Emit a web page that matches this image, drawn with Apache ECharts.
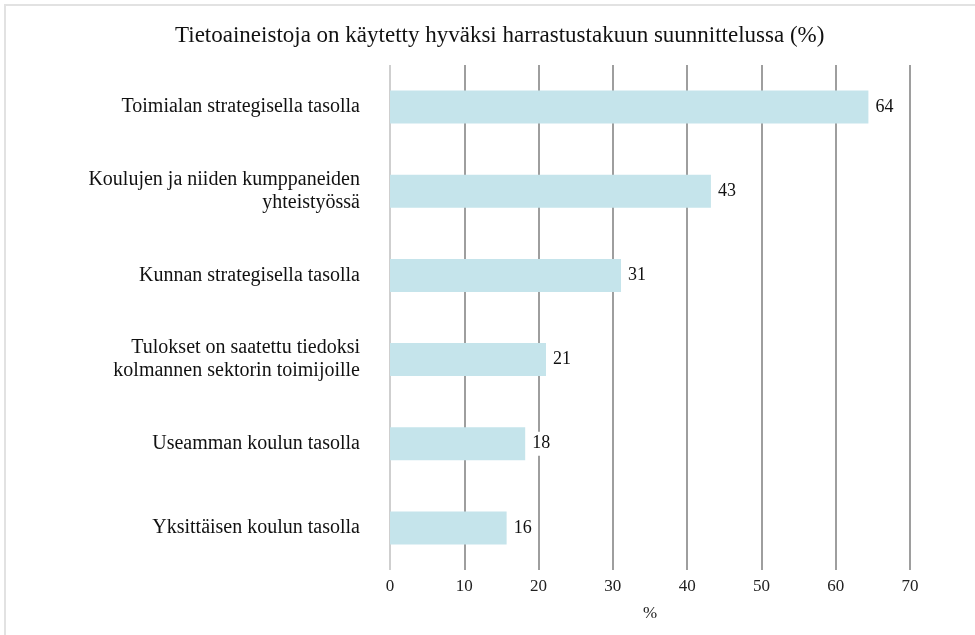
<!DOCTYPE html>
<html>
<head>
<meta charset="utf-8">
<script src="https://cdn.jsdelivr.net/npm/echarts@6/dist/echarts.min.js"></script>
<style>html,body{margin:0;padding:0;background:#fff}#c{width:975px;height:635px}</style>
</head>
<body>
<div id="c"></div>
<script>
var titleText = 'Tietoaineistoja on käytetty hyväksi harrastustakuun suunnittelussa (%)';
var categories = [
  'Toimialan strategisella tasolla',
  'Koulujen ja niiden kumppaneiden\nyhteistyössä',
  'Kunnan strategisella tasolla',
  'Tulokset on saatettu tiedoksi\nkolmannen sektorin toimijoille',
  'Useamman koulun tasolla',
  'Yksittäisen koulun tasolla'
];
var values = [64.4, 43.2, 31.1, 21.0, 18.2, 15.7];
var axisName = '%';
var xMin = 0, xMax = 70, xInterval = 10;

var FONT = '"Liberation Serif", "DejaVu Serif", serif';
var chart = echarts.init(document.getElementById('c'), null, {renderer: 'canvas'});
chart.setOption({
  animation: false,
  backgroundColor: '#fff',
  graphic: [{
    type: 'rect', shape: {x: 5, y: 5, width: 1100, height: 800},
    style: {fill: 'none', stroke: '#e2e2e2', lineWidth: 2}, silent: true, z: -1
  }],
  title: {
    text: titleText, left: 170, top: 19,
    textStyle: {fontFamily: FONT, fontSize: 23, fontWeight: 'normal', color: '#111'}
  },
  grid: {left: 390, right: 65, top: 65, bottom: 65, containLabel: false},
  xAxis: {
    type: 'value', min: xMin, max: xMax, interval: xInterval,
    name: axisName, nameLocation: 'middle', nameGap: 35,
    nameTextStyle: {fontFamily: FONT, fontSize: 17, color: '#222'},
    axisLine: {show: false}, axisTick: {show: false},
    axisLabel: {fontFamily: FONT, fontSize: 17, color: '#222', margin: 8},
    splitLine: {show: true, lineStyle: {color: ['#cfcfcf','#9e9e9e','#9e9e9e','#9e9e9e','#9e9e9e','#9e9e9e','#9e9e9e','#9e9e9e'], width: 2}}
  },
  yAxis: {
    type: 'category', data: categories, inverse: true,
    axisLine: {show: false}, axisTick: {show: false},
    axisLabel: {fontFamily: FONT, fontSize: 20, color: '#111', margin: 30, lineHeight: 23, align: 'right'}
  },
  series: [{
    type: 'bar', data: values, barWidth: 33,
    itemStyle: {color: '#c5e4eb'},
    label: {
      show: true, position: 'right', distance: 4,
      formatter: function (p) { return Math.round(p.value); },
      fontFamily: FONT, fontSize: 18, color: '#111',
      backgroundColor: '#fff', padding: [3, 3]
    }
  }]
});
</script>
</body>
</html>
